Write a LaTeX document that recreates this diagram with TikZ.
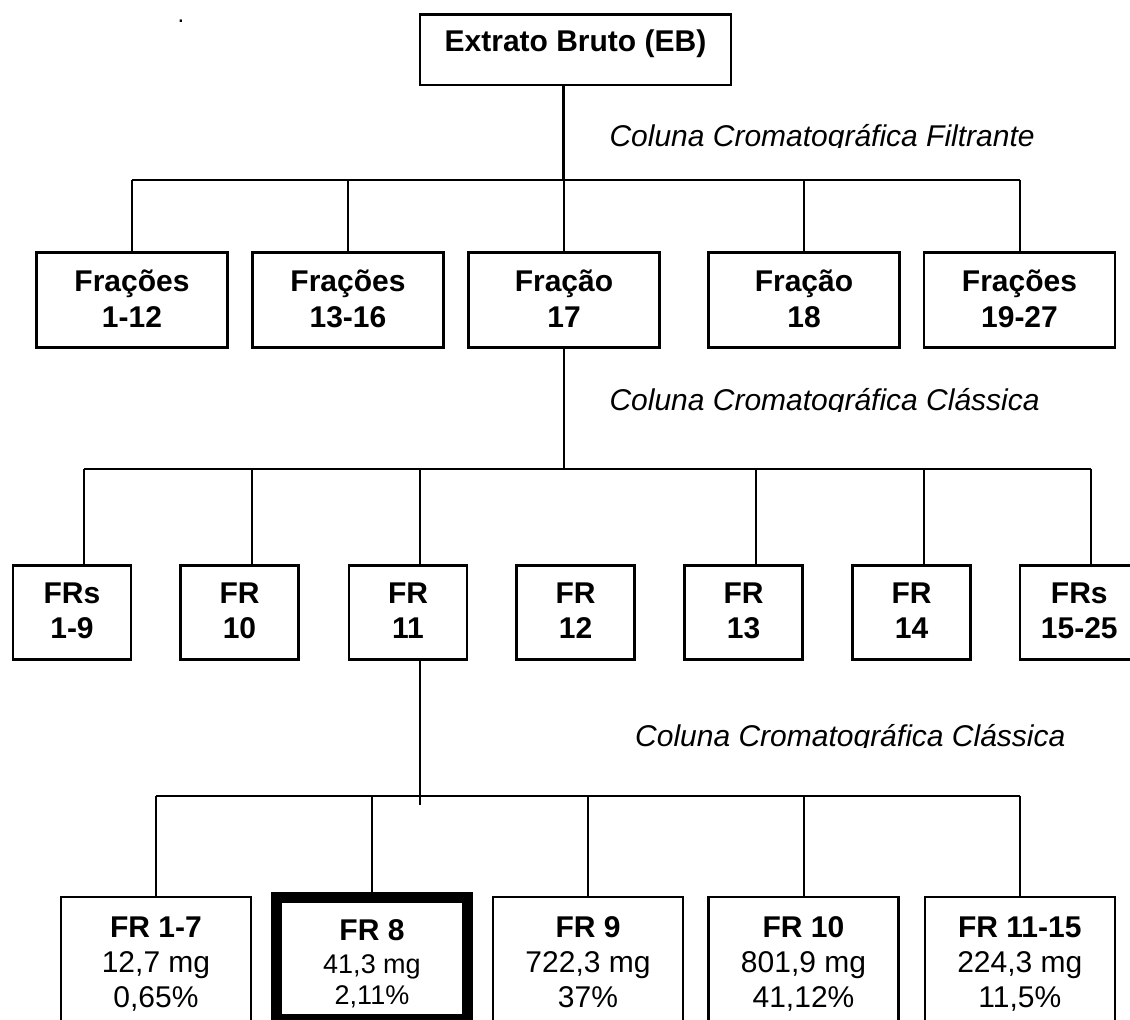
\documentclass[tikz,border=0pt]{standalone}
\usepackage{fontspec}
\setmainfont{Liberation Sans}
% invisible struts that fix the height of a first line and the depth of a last line
\newcommand{\hstrut}[1]{\rule{0pt}{#1}}
\newcommand{\dstrut}[1]{\rule[-#1]{0pt}{0pt}}
\begin{document}
\begin{tikzpicture}[x=1pt,y=-1pt,
  box/.style={draw, line width=2.3pt, rectangle, inner sep=0pt, align=center},
  head/.style={box, minimum width=311, minimum height=70.6,
    font=\fontsize{30}{36}\selectfont\bfseries},
  tierA/.style={box, minimum width=191, minimum height=95,
    font=\fontsize{30}{36}\selectfont\bfseries},
  tierB/.style={box, minimum width=118, minimum height=94,
    font=\fontsize{30}{35}\selectfont\bfseries},
  tierC/.style={box, minimum width=190, minimum height=124,
    font=\fontsize{30}{35}\selectfont},
  pick/.style={tierC, line width=11.5pt, minimum width=191, minimum height=122.5,
    font=\fontsize{27}{31.5}\selectfont},
  link/.style={line width=2pt},
  trunk/.style={line width=3.4pt},
  lbl/.style={anchor=base west, inner sep=0pt, font=\fontsize{30}{36}\selectfont\itshape}
]
\useasboundingbox (0,0) rectangle (1130,1020);
\clip (0,0) rectangle (1130,1020);

% stray full stop in the upper left
\node[inner sep=0pt, font=\fontsize{24}{24}\selectfont] (dot) at (181,21) {.};

% crude extract
\node[head] (eb) at (575.5,49.7) {\hstrut{26pt}Extrato Bruto (EB)\dstrut{22pt}};

% first column: five fraction groups
\node[tierA] (f1) at (132,300)    {\hstrut{28pt}Frações\\1-12\dstrut{9.1pt}};
\node[tierA] (f2) at (348,300)    {\hstrut{28pt}Frações\\13-16\dstrut{9.1pt}};
\node[tierA] (f3) at (564,300)    {\hstrut{28pt}Fração\\17\dstrut{9.1pt}};
\node[tierA] (f4) at (804,300)    {\hstrut{28pt}Fração\\18\dstrut{9.1pt}};
\node[tierA] (f5) at (1019.5,300) {\hstrut{28pt}Frações\\19-27\dstrut{9.1pt}};

% second column: fractions of Fração 17
\node[tierB] (r1) at (72,612.5)     {\hstrut{24pt}FRs\\1-9\dstrut{7.5pt}};
\node[tierB] (r2) at (239.5,612.5)  {\hstrut{24pt}FR\\10\dstrut{7.5pt}};
\node[tierB] (r3) at (408,612.5)    {\hstrut{24pt}FR\\11\dstrut{7.5pt}};
\node[tierB] (r4) at (575.5,612.5)  {\hstrut{24pt}FR\\12\dstrut{7.5pt}};
\node[tierB] (r5) at (743.5,612.5)  {\hstrut{24pt}FR\\13\dstrut{7.5pt}};
\node[tierB] (r6) at (911.5,612.5)  {\hstrut{24pt}FR\\14\dstrut{7.5pt}};
\node[tierB] (r7) at (1079.3,612.5) {\hstrut{24pt}FRs\\15-25\dstrut{7.5pt}};

% third column: fractions of FR 11 with yields
\node[tierC] (b1) at (156,959)    {\hstrut{33pt}{\bfseries FR 1-7}\\12,7 mg\\0,65\%\dstrut{6pt}};
\node[pick]  (b2) at (372,958.75) {\hstrut{33pt}{\fontsize{30}{33}\selectfont\bfseries FR 8}\\[1.5pt]41,3 mg\\2,11\%\dstrut{6pt}};
\node[tierC] (b3) at (588,959)    {\hstrut{33pt}{\bfseries FR 9}\\722,3 mg\\37\%\dstrut{6pt}};
\node[tierC] (b4) at (803.5,959)  {\hstrut{33pt}{\bfseries FR 10}\\801,9 mg\\41,12\%\dstrut{6pt}};
\node[tierC] (b5) at (1019.8,959) {\hstrut{33pt}{\bfseries FR 11-15}\\224,3 mg\\11,5\%\dstrut{6pt}};

% column labels (descenders trimmed at the baseline)
\begin{scope}
  \clip (590,100) rectangle (1130,147);
  \node[lbl] (l1) at (609.3,146) {Coluna Cromatográfica Filtrante};
\end{scope}
\begin{scope}
  \clip (590,360) rectangle (1130,411);
  \node[lbl] (l2) at (609.3,410) {Coluna Cromatográfica Clássica};
\end{scope}
\begin{scope}
  \clip (600,700) rectangle (1130,747);
  \node[lbl] (l3) at (635,746) {Coluna Cromatográfica Clássica};
\end{scope}

% connectors: extract to first column
\coordinate (h1) at (563.7,180);
\draw[trunk] (eb.south -| h1) -- (h1);
\draw[link] (f1.north |- h1) -- (f5.north |- h1);
\foreach \n in {f1,f2,f3,f4,f5}
  \draw[link] (\n.north |- h1) -- (\n.north);

% connectors: Fração 17 to second column
\coordinate (h2) at (563.7,468.7);
\draw[link] (f3.south) -- (f3.south |- h2);
\foreach \n in {r1,r2,r3,r5,r6,r7}
  \coordinate (d\n) at ([xshift=12pt]\n.north);
\draw[link] (dr1 |- h2) -- (dr7 |- h2);
\foreach \n in {r1,r2,r3,r5,r6,r7}
  \draw[link] (d\n |- h2) -- (d\n);

% connectors: FR 11 to third column
\coordinate (s3) at ([xshift=12pt]r3.south);
\coordinate (h3) at (420,796);
\coordinate (stub) at (420,805);
\draw[link] (s3) -- (stub);
\draw[link] (b1.north |- h3) -- (b5.north |- h3);
\foreach \n in {b1,b2,b3,b4,b5}
  \draw[link] (\n.north |- h3) -- (\n.north);
\end{tikzpicture}
\end{document}
